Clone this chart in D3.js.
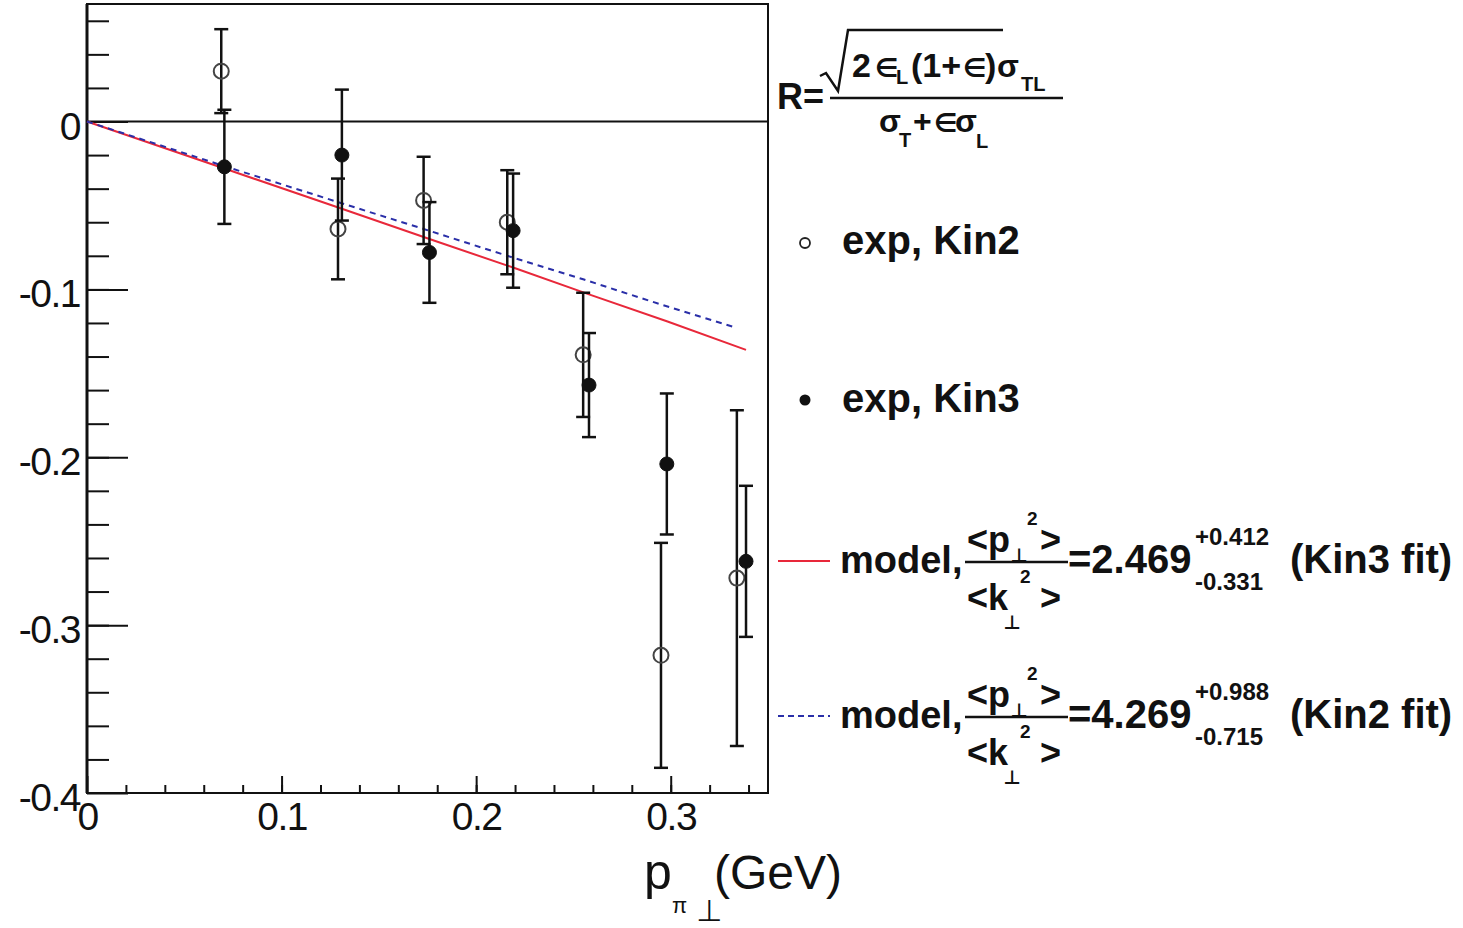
<!DOCTYPE html>
<html>
<head>
<meta charset="utf-8">
<script src="https://cdn.jsdelivr.net/npm/d3@7"></script>
<style>
body { margin: 0; background: #fff; }
text { font-family: "Liberation Sans", Arial, sans-serif; fill: #111; }
</style>
</head>
<body>
<svg id="chart"></svg>
<script>
// values
var kin2X   = [0.069, 0.129, 0.173, 0.216, 0.255, 0.295, 0.334];
var kin2R   = [0.030, -0.064, -0.047, -0.060, -0.139, -0.318, -0.272];
var kin2Err = [0.025, 0.030, 0.026, 0.031, 0.037, 0.067, 0.100];

var kin3X   = [0.0706, 0.131, 0.176, 0.219, 0.258, 0.298, 0.3387];
var kin3R   = [-0.027, -0.020, -0.078, -0.065, -0.157, -0.204, -0.262];
var kin3Err = [0.034, 0.039, 0.030, 0.034, 0.031, 0.042, 0.045];

// model curves (Kin3 fit solid red, Kin2 fit dashed blue)
var modelKin3X = [0, 0.0706, 0.131, 0.176, 0.219, 0.258, 0.298, 0.3387];
var modelKin3R = [0, -0.028, -0.052, -0.070, -0.087, -0.103, -0.119, -0.136];
var modelKin2X = [0, 0.069, 0.129, 0.173, 0.216, 0.255, 0.295, 0.334];
var modelKin2R = [0, -0.026, -0.048, -0.064, -0.080, -0.094, -0.109, -0.123];

var xTickValues = [0, 0.1, 0.2, 0.3];
var xTickLabels = ["0", "0.1", "0.2", "0.3"];
var yTickValues = [-0.4, -0.3, -0.2, -0.1, 0];
var yTickLabels = ["-0.4", "-0.3", "-0.2", "-0.1", "0"];

var W = 1463, H = 928;
var plot = {left: 87, right: 768, top: 4, bottom: 793};

var svg = d3.select("#chart").attr("width", W).attr("height", H);
svg.append("rect").attr("width", W).attr("height", H).attr("fill", "#fff");

var x = d3.scaleLinear().domain([0, 0.35]).range([plot.left, plot.right]);
var y = d3.scaleLinear().domain([-0.4, 0.07]).range([plot.bottom, plot.top]);

var red = "#e8283a", blue = "#2a2fa8";

// minor ticks
svg.append("g")
  .attr("transform", "translate(0," + plot.bottom + ")")
  .call(d3.axisBottom(x).tickValues(d3.range(0.02, 0.35, 0.02)).tickSize(-8).tickFormat(""))
  .call(g => g.select(".domain").remove())
  .selectAll("line").attr("stroke", "#111").attr("stroke-width", 2);
svg.append("g")
  .attr("transform", "translate(" + plot.left + ",0)")
  .call(d3.axisLeft(y).tickValues(d3.range(-0.38, 0.07, 0.02)).tickSize(-22).tickFormat(""))
  .call(g => g.select(".domain").remove())
  .selectAll("line").attr("stroke", "#111").attr("stroke-width", 2);

// major ticks + labels
var xAxis = svg.append("g")
  .attr("transform", "translate(0," + plot.bottom + ")")
  .call(d3.axisBottom(x).tickValues(xTickValues).tickSize(-17).tickPadding(9)
        .tickFormat((d, i) => xTickLabels[i]));
xAxis.select(".domain").remove();
xAxis.selectAll("line").attr("stroke", "#111").attr("stroke-width", 2);
xAxis.selectAll("text").attr("font-size", 39).attr("letter-spacing", -1.5).attr("fill", "#111");

var yAxis = svg.append("g")
  .attr("transform", "translate(" + plot.left + ",0)")
  .call(d3.axisLeft(y).tickValues(yTickValues).tickSize(-41).tickPadding(7)
        .tickFormat((d, i) => yTickLabels[i]));
yAxis.select(".domain").remove();
yAxis.selectAll("line").attr("stroke", "#111").attr("stroke-width", 2);
yAxis.selectAll("text").attr("font-size", 39).attr("letter-spacing", -1.5)
  .attr("dy", "0.45em").attr("fill", "#111");

// frame and zero line
svg.append("rect")
  .attr("x", plot.left).attr("y", plot.top)
  .attr("width", plot.right - plot.left).attr("height", plot.bottom - plot.top)
  .attr("fill", "none").attr("stroke", "#111").attr("stroke-width", 2);
svg.append("line")
  .attr("x1", plot.left).attr("x2", plot.left)
  .attr("y1", plot.top).attr("y2", plot.bottom)
  .attr("stroke", "#111").attr("stroke-width", 3);
svg.append("line")
  .attr("x1", x(0)).attr("x2", x(0.35))
  .attr("y1", y(0)).attr("y2", y(0))
  .attr("stroke", "#111").attr("stroke-width", 2);

// model lines
var line = d3.line().x(d => x(d[0])).y(d => y(d[1]));
svg.append("path")
  .datum(d3.zip(modelKin3X, modelKin3R))
  .attr("d", line).attr("fill", "none").attr("stroke", red).attr("stroke-width", 2);
svg.append("path")
  .datum(d3.zip(modelKin2X, modelKin2R))
  .attr("d", line).attr("fill", "none").attr("stroke", blue).attr("stroke-width", 2)
  .attr("stroke-dasharray", "6,5");

// points with error bars
function drawSeries(xs, rs, es, filled) {
  var pts = d3.zip(xs, rs, es);
  var g = svg.append("g");
  var eb = g.selectAll(".eb").data(pts).enter().append("g")
    .attr("stroke", "#111").attr("stroke-width", 2.5);
  eb.append("line")
    .attr("x1", d => x(d[0])).attr("x2", d => x(d[0]))
    .attr("y1", d => y(d[1] + d[2])).attr("y2", d => y(d[1] - d[2]));
  eb.append("line")
    .attr("x1", d => x(d[0]) - 7).attr("x2", d => x(d[0]) + 7)
    .attr("y1", d => y(d[1] + d[2])).attr("y2", d => y(d[1] + d[2]));
  eb.append("line")
    .attr("x1", d => x(d[0]) - 7).attr("x2", d => x(d[0]) + 7)
    .attr("y1", d => y(d[1] - d[2])).attr("y2", d => y(d[1] - d[2]));
  g.selectAll("circle").data(pts).enter().append("circle")
    .attr("cx", d => x(d[0])).attr("cy", d => y(d[1]))
    .attr("r", filled ? 7 : 7.5)
    .attr("fill", filled ? "#111" : "none")
    .attr("stroke", filled ? "#111" : "#444")
    .attr("stroke-width", filled ? 1 : 2);
}
drawSeries(kin2X, kin2R, kin2Err, false);
drawSeries(kin3X, kin3R, kin3Err, true);

// ---- formula for R
var f = svg.append("g").attr("font-weight", "bold");
function t(g, str, px, py, size, opts) {
  var e = g.append("text").attr("x", px).attr("y", py).attr("font-size", size).text(str);
  if (opts && opts.anchor) e.attr("text-anchor", opts.anchor);
  if (opts && opts.font) e.style("font-family", opts.font);
  return e;
}
t(f, "R=", 777, 109, 36);
var sq = d3.path();
sq.moveTo(820, 76); sq.lineTo(826, 73); sq.lineTo(838, 91); sq.lineTo(848, 30); sq.lineTo(1003, 30);
f.append("path").attr("d", sq.toString()).attr("fill", "none").attr("stroke", "#111").attr("stroke-width", 2.5);
t(f, "2", 852, 77, 34);
t(f, "\u2208", 875, 77, 26, {font: "DejaVu Sans"});
t(f, "L", 896, 84, 20);
t(f, "(1+", 911, 77, 34);
t(f, "\u2208", 963, 77, 26, {font: "DejaVu Sans"});
t(f, ")", 985, 77, 34);
t(f, "\u03c3", 997, 77, 32);
t(f, "TL", 1021, 91, 20);
f.append("line").attr("x1", 830).attr("x2", 1063).attr("y1", 98).attr("y2", 98)
  .attr("stroke", "#111").attr("stroke-width", 2.5);
t(f, "\u03c3", 879, 132, 32);
t(f, "T", 899, 147, 20);
t(f, "+", 913, 132, 32);
t(f, "\u2208", 934, 132, 26, {font: "DejaVu Sans"});
t(f, "\u03c3", 955, 132, 32);
t(f, "L", 976, 148, 20);

// ---- legend: data
var leg = svg.append("g").attr("font-weight", "bold");
leg.append("circle").attr("cx", 805).attr("cy", 243).attr("r", 5)
  .attr("fill", "none").attr("stroke", "#222").attr("stroke-width", 1.8);
t(leg, "exp, Kin2", 842, 254, 40);
leg.append("circle").attr("cx", 805).attr("cy", 400).attr("r", 5.5).attr("fill", "#111");
t(leg, "exp, Kin3", 842, 412, 40);

// ---- legend: model entries
function modelEntry(yc, color, dashed, val, up, down, label) {
  var g = svg.append("g").attr("font-weight", "bold");
  var l = g.append("line").attr("x1", 778).attr("x2", 830).attr("y1", yc).attr("y2", yc)
    .attr("stroke", color).attr("stroke-width", 2);
  if (dashed) l.attr("stroke-dasharray", "6,4");
  t(g, "model,", 840, yc + 12, 38);
  t(g, "<p", 967, yc - 9, 36);
  t(g, "2", 1027, yc - 36, 19);
  t(g, "\u22a5", 1019, yc + 1, 19, {anchor: "middle", font: "DejaVu Sans"});
  t(g, ">", 1040, yc - 9, 36);
  g.append("line").attr("x1", 965).attr("x2", 1068).attr("y1", yc + 1).attr("y2", yc + 1)
    .attr("stroke", "#111").attr("stroke-width", 2.5);
  t(g, "<k", 967, yc + 49, 36);
  t(g, "2", 1020, yc + 22, 19);
  t(g, "\u22a5", 1012, yc + 68, 19, {anchor: "middle", font: "DejaVu Sans"});
  t(g, ">", 1040, yc + 49, 36);
  t(g, val, 1068, yc + 12, 40);
  t(g, up, 1195, yc - 16, 24);
  t(g, down, 1195, yc + 29, 24);
  t(g, label, 1290, yc + 12, 40);
}
modelEntry(561, red, false, "=2.469", "+0.412", "-0.331", "(Kin3 fit)");
modelEntry(716, blue, true, "=4.269", "+0.988", "-0.715", "(Kin2 fit)");

// ---- x axis title
var xt = svg.append("g");
t(xt, "p", 644, 889, 50);
t(xt, "\u03c0", 672, 913, 22);
t(xt, "\u22a5", 709, 921, 30, {anchor: "middle", font: "DejaVu Sans"});
t(xt, "(GeV)", 714, 889, 48);
</script>
</body>
</html>
